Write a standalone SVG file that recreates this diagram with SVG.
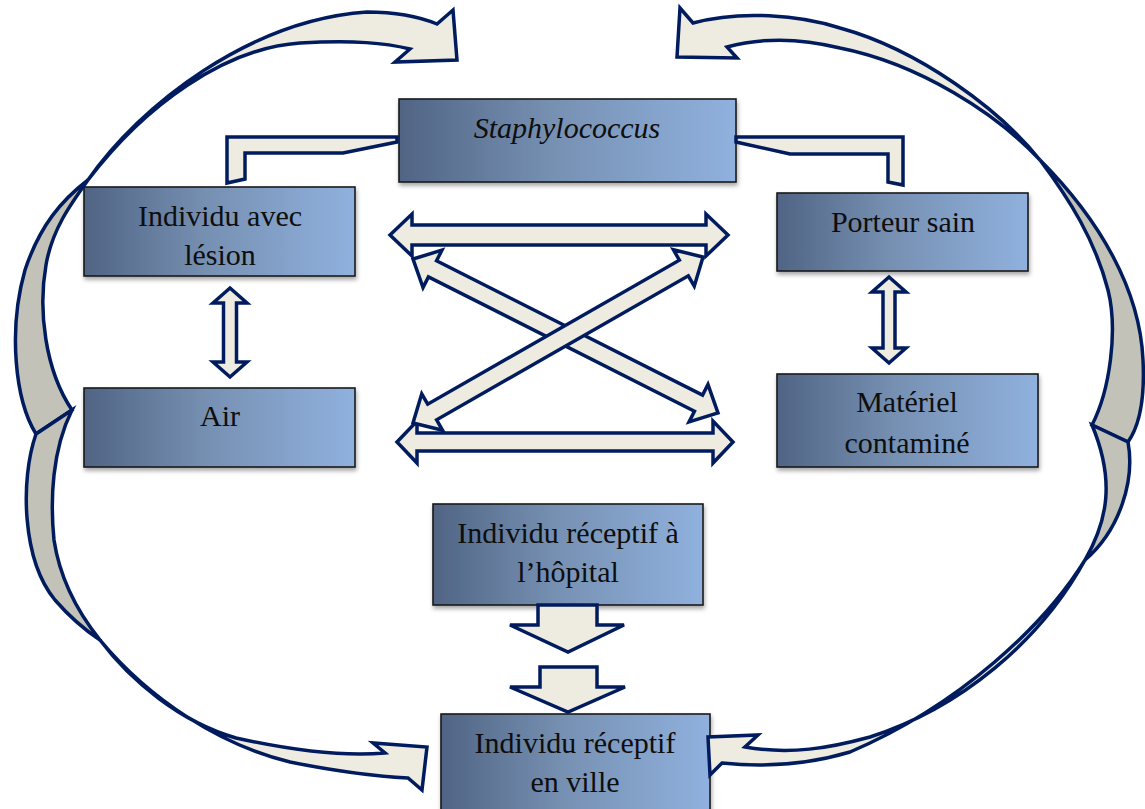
<svg xmlns="http://www.w3.org/2000/svg" width="1145" height="809" viewBox="0 0 1145 809">
<defs>
<linearGradient id="boxgrad" x1="0" y1="0" x2="1" y2="0">
<stop offset="0" stop-color="#506484"/>
<stop offset="0.45" stop-color="#7690b2"/>
<stop offset="1" stop-color="#90b1de"/>
</linearGradient>
<filter id="shadow" x="-10%" y="-10%" width="125%" height="140%">
<feDropShadow dx="1" dy="3" stdDeviation="2" flood-color="#000" flood-opacity="0.35"/>
</filter>
</defs>
<style>
.box{fill:url(#boxgrad);stroke:#1a1a1a;stroke-width:1.6;filter:url(#shadow)}
.lbl{font-family:"Liberation Serif","Times New Roman",serif;font-size:30px;fill:#0e0e0e;text-anchor:middle}
.it{font-style:italic}
.arr{fill:#eeece1;stroke:#001c5e;stroke-width:3.5;stroke-linejoin:miter}
.back{fill:#c3c2b8;stroke:#001c5e;stroke-width:3.5;stroke-linejoin:miter}
</style>
<rect width="1145" height="809" fill="#ffffff"/>
<g id="nodes">
<g id="staph"><rect class="box" x="399" y="99" width="337" height="83"/><text class="lbl it" x="567" y="138">Staphylococcus</text></g>
<g id="lesion"><rect class="box" x="84" y="187" width="271" height="89"/><text class="lbl" x="220" y="226">Individu avec</text><text class="lbl" x="220" y="265">lésion</text></g>
<g id="porteur"><rect class="box" x="777" y="193" width="251" height="78"/><text class="lbl" x="903" y="232">Porteur sain</text></g>
<g id="air"><rect class="box" x="84" y="388" width="271" height="79"/><text class="lbl" x="220" y="426">Air</text></g>
<g id="materiel"><rect class="box" x="777" y="374" width="261" height="93"/><text class="lbl" x="907" y="412">Matériel</text><text class="lbl" x="907" y="453">contaminé</text></g>
<g id="hopital"><rect class="box" x="433" y="504" width="270" height="101"/><text class="lbl" x="568" y="543">Individu réceptif à</text><text class="lbl" x="568" y="582">l’hôpital</text></g>
<g id="ville"><rect class="box" x="441" y="714" width="269" height="100"/><text class="lbl" x="575" y="753">Individu réceptif</text><text class="lbl" x="575" y="792">en ville</text></g>
</g>
<g id="connectors">
<path class="arr" d="M397,137 L227,137 L227,183 L245,179 L245,153 L343,153 L397,142 Z"/>
<path class="arr" d="M736,137 L903,137 L903,185 L888,182 L888,154 L790,154 L736,142 Z"/>
<path class="arr" d="M230,288 L247,303 L236.5,303 L236.5,362 L247,362 L230,377 L213,362 L223.5,362 L223.5,303 L213,303 Z"/>
<path class="arr" d="M889,277 L906,292 L895,292 L895,348 L906,348 L889,363 L872,348 L883,348 L883,292 L872,292 Z"/>
<path class="arr" d="M390,235 L412,214 L412,225 L706,225 L706,214 L728,235 L706,256 L706,245 L412,245 L412,256 Z"/>
<path class="arr" d="M397,442 L417,421 L417,433 L713,433 L713,421 L733,442 L713,463 L713,451 L417,451 L417,463 Z"/>
<g transform="translate(565.5,336) rotate(26.79)"><path class="arr" d="M-170.8,0 L-149,-21 L-149,-9 L149,-9 L149,-21 L170.8,0 L149,21 L149,9 L-149,9 L-149,21 Z"/></g>
<g transform="translate(558,340) rotate(-29.79)"><path class="arr" d="M-167.1,0 L-145,-21 L-145,-9 L145,-9 L145,-21 L167.1,0 L145,21 L145,9 L-145,9 L-145,21 Z"/></g>
<path class="arr" d="M538,605 L597,605 L597,625 L624,625 L568,652 L510,625 L538,625 Z"/>
<path class="arr" d="M540,667 L597,667 L597,687 L625,687 L568,712 L510,687 L540,687 Z"/>
<!-- top-left curved arrow -->
<path class="back" d="M36,434 C15,400 8,330 25,270 C40,225 62,200 88,180 C70,205 52,230 46,265 C38,310 45,370 72,410 Z"/>
<path class="arr" d="M88,180 C140,105 250,20 367,12 C395,12 420,17 437,24 L453,10 L457,60 L395,62 L410,49 C385,43 355,40 300,43 C225,48 145,105 88,180 Z"/>
<!-- bottom-left curved arrow -->
<path class="back" d="M72,410 L36,434 C20,480 22,560 55,600 C68,615 82,628 100,640 C80,615 60,580 54,540 C50,500 52,450 72,410 Z"/>
<path class="arr" d="M100,640 C150,700 220,745 290,762 C330,770 370,776 408,778 L422,790 L427,747 L373,743 L385,753 C340,757 290,750 236,738 C180,722 130,680 100,640 Z"/>
<!-- top-right curved arrow -->
<path class="back" d="M1040,160 C1100,220 1140,290 1143,360 C1145,400 1140,425 1128,442 L1092,425 C1110,390 1118,330 1108,290 C1095,240 1070,200 1040,160 Z"/>
<path class="arr" d="M1040,160 C1000,110 920,50 840,28 C800,15 740,10 693,23 L680,8 L677,57 L737,58 L727,47 C760,38 800,38 840,48 C920,64 997,114 1040,160 Z"/>
<!-- bottom-right curved arrow -->
<path class="back" d="M1092,425 L1128,442 C1135,480 1120,530 1085,560 C1108,520 1115,480 1092,425 Z"/>
<path class="arr" d="M1085,560 C1045,625 960,705 850,752 C810,764 770,768 722,763 L710,775 L708,737 L758,735 L745,747 C790,755 830,748 870,737 C960,708 1040,642 1085,560 Z"/>
</g>
</svg>
